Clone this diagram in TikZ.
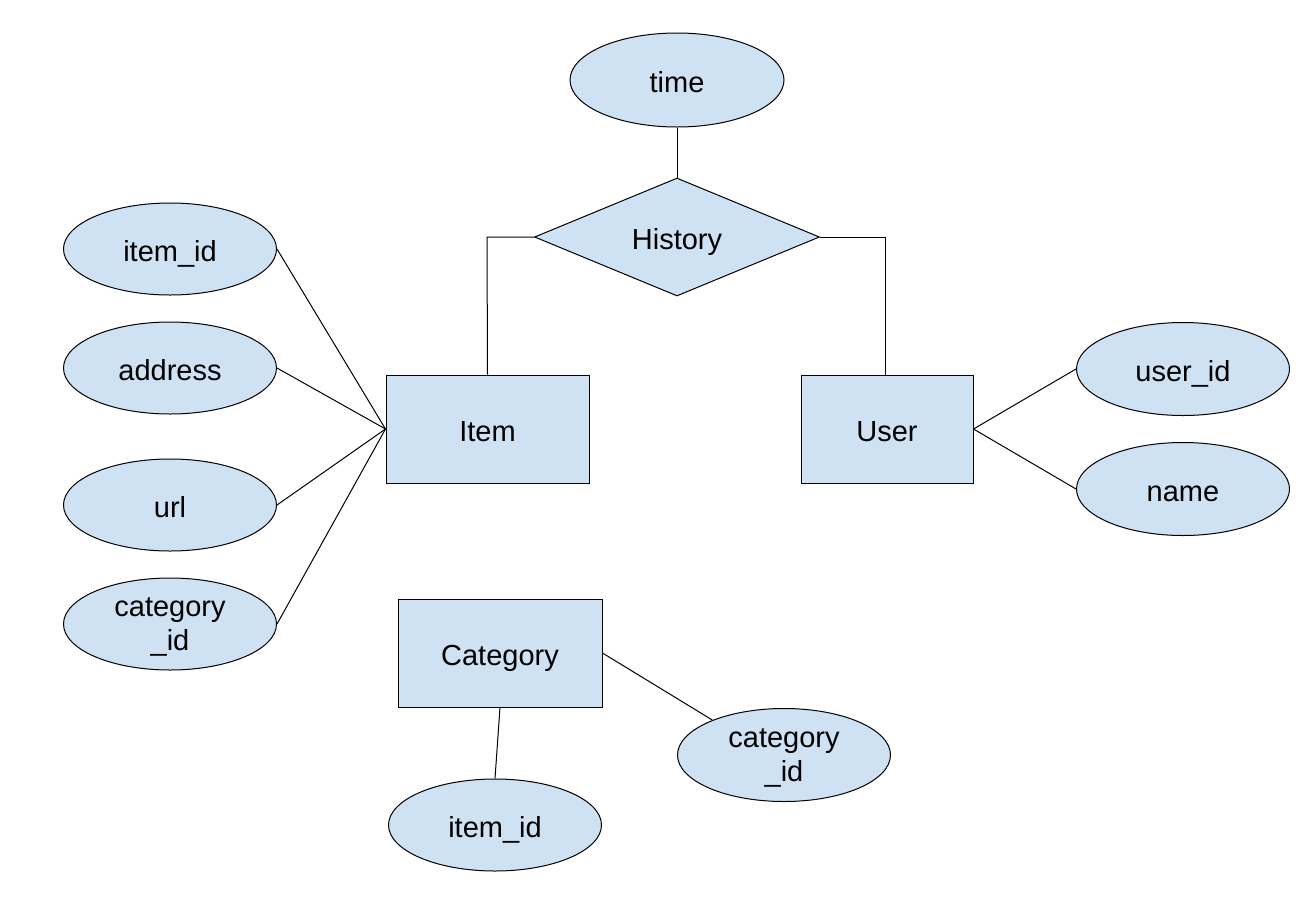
\documentclass[tikz,border=0pt]{standalone}
\usepackage{fontspec}
\setmainfont{Liberation Sans}
\usetikzlibrary{shapes.geometric}
\definecolor{erfill}{HTML}{CFE2F3}
\begin{document}
\begin{tikzpicture}[x=1pt,y=-1pt,
  every node/.style={font=\fontsize{29}{34}\selectfont, text=black, text depth=0pt},
  one/.style={text height=24pt},
  attr/.style={ellipse, draw=black, line width=1pt, fill=erfill, minimum width=213pt, minimum height=92pt, inner sep=0pt, align=center},
  ent/.style={rectangle, draw=black, line width=1pt, fill=erfill, inner sep=0pt, one},
  rel/.style={diamond, draw=black, line width=1pt, fill=erfill, inner sep=0pt, minimum width=285pt, minimum height=118pt, one},
  conn/.style={draw=black, line width=1pt}]
\useasboundingbox (0,0) rectangle (1304,906);
\fill[white] (0,0) rectangle (1304,906);

% relationship
\node[attr, one, minimum width=214pt, minimum height=94pt] (time) at (677,80) {time};
\node[rel] (hist) at (677,237) {History};

% entities
\node[ent, minimum width=203pt, minimum height=108pt] (item) at (487.5,429) {Item};
\node[ent, minimum width=172pt, minimum height=108pt] (user) at (887,429) {User};
\node[ent, minimum width=204pt, minimum height=108pt] (cat) at (500,653) {Category};

% item attributes
\node[attr, one] (iid) at (170,249) {item\_id};
\node[attr, one] (addr) at (170,368) {address};
\node[attr, one] (url) at (170,505) {url};
\node[attr] (icat) at (170,624) {category\\\_id};

% user attributes
\node[attr, one, minimum height=93pt] (uid) at (1183,369) {user\_id};
\node[attr, one, minimum height=93pt] (uname) at (1183,489) {name};

% category attributes
\node[attr, minimum height=93pt] (ccat) at (784,755) {category\\\_id};
\node[attr, one] (citem) at (495,825) {item\_id};

% connectors
\draw[conn] (time.south) -- (hist.north);
\draw[conn] (hist.west) -- (487,237) -- (item.north);
\draw[conn] (hist.east) -- (885,237) -- (885,375);
\draw[conn] (iid.east) -- (item.west);
\draw[conn] (addr.east) -- (item.west);
\draw[conn] (url.east) -- (item.west);
\draw[conn] (icat.east) -- (item.west);
\draw[conn] (user.east) -- (uid.west);
\draw[conn] (user.east) -- (uname.west);
\draw[conn] (cat.east) -- (ccat.154);
\draw[conn] (cat.south) -- (citem.north);
\end{tikzpicture}
\end{document}
